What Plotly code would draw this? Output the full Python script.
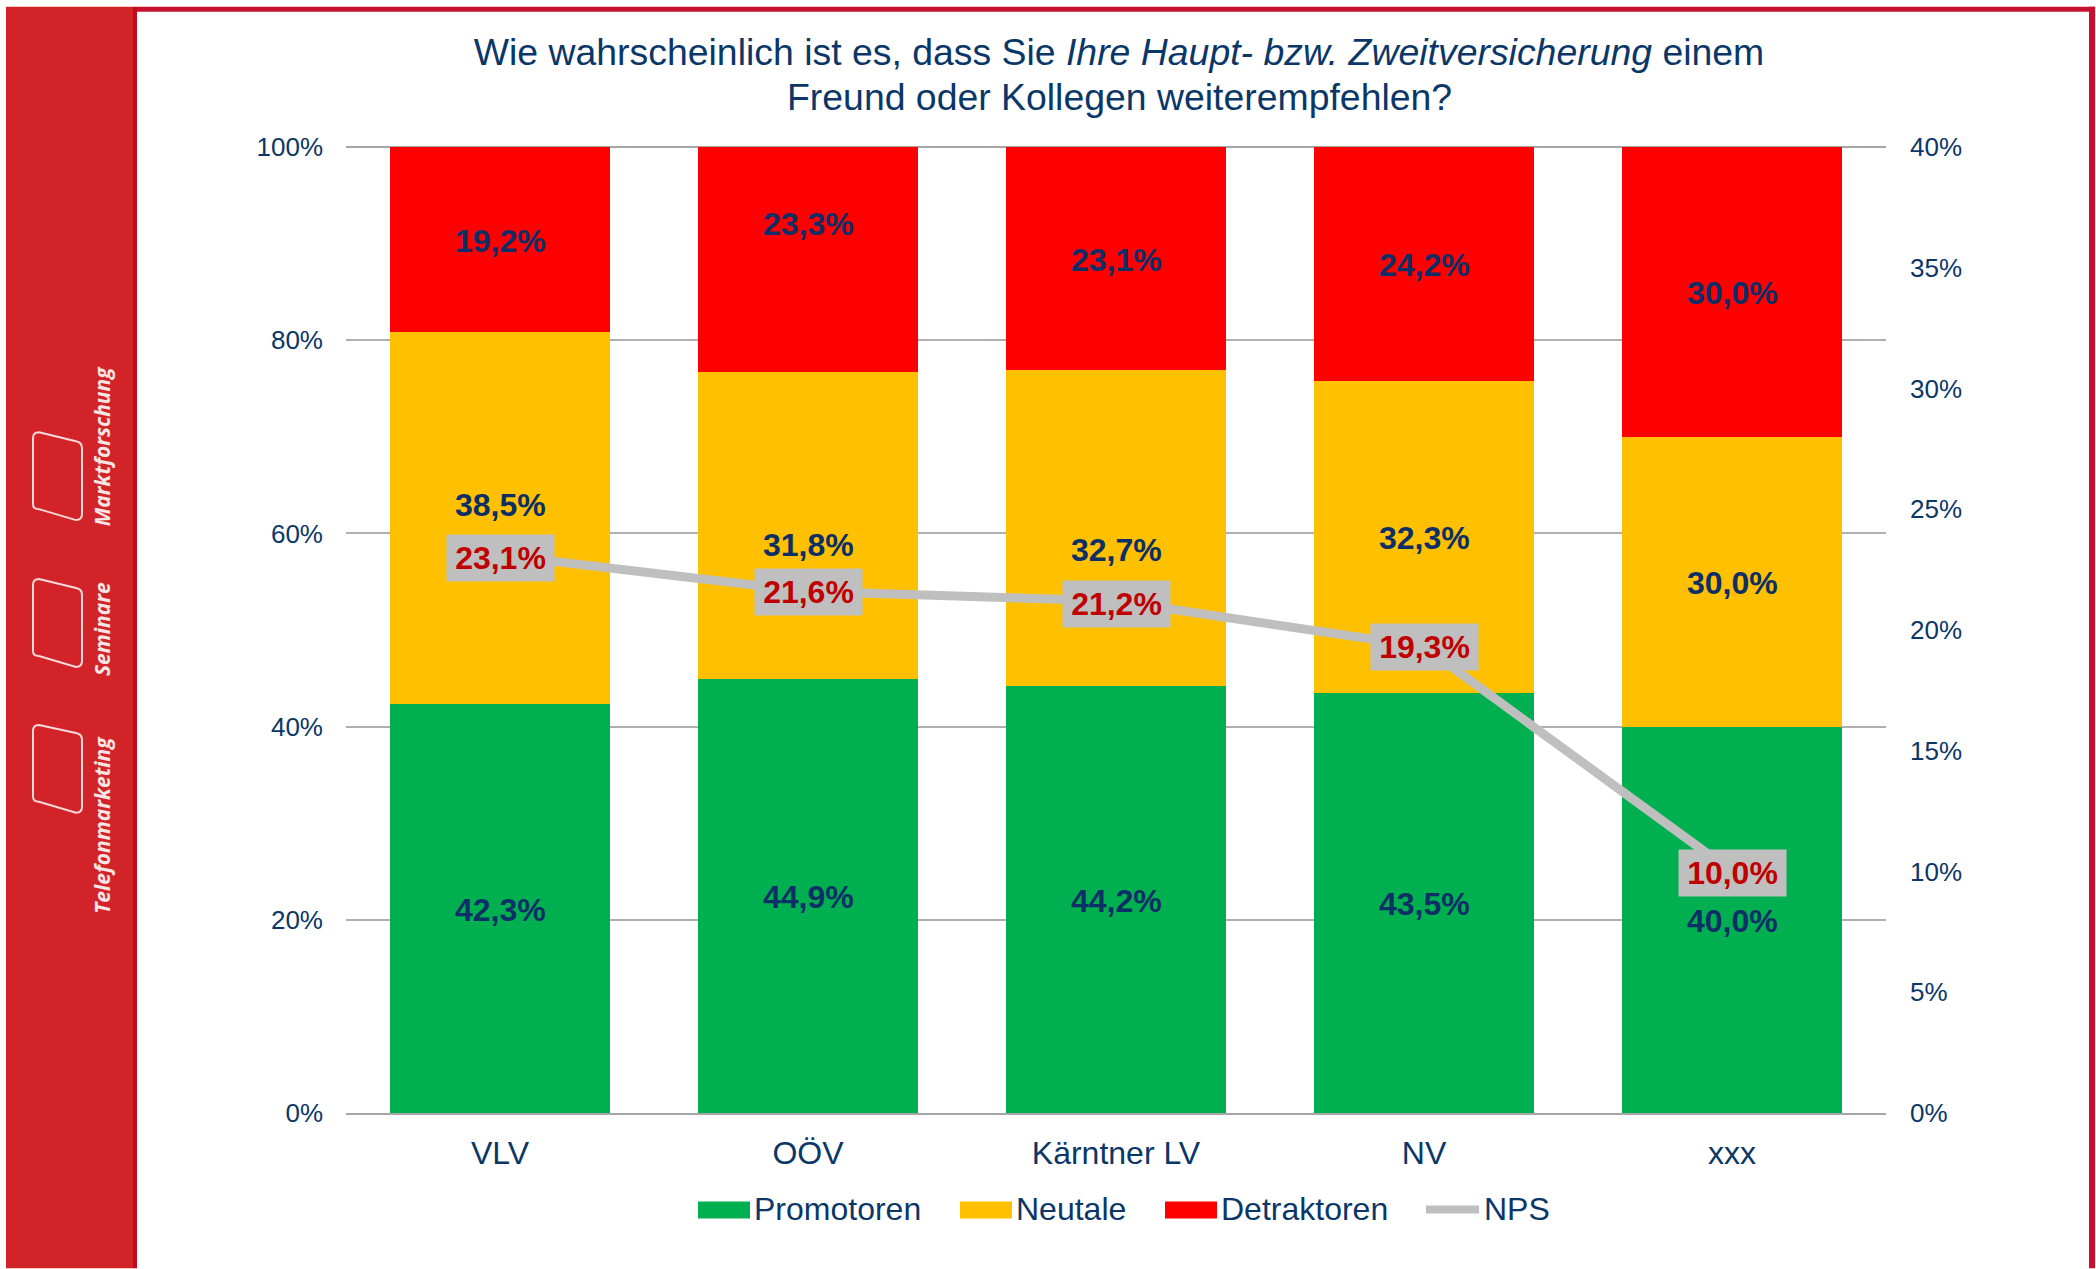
import plotly.graph_objects as go

categories = ["VLV", "OÖV", "Kärntner LV", "NV", "xxx"]
promotoren = [42.3, 44.9, 44.2, 43.5, 40.0]
neutrale = [38.5, 31.8, 32.7, 32.3, 30.0]
detraktoren = [19.2, 23.3, 23.1, 24.2, 30.0]
nps = [23.1, 21.6, 21.2, 19.3, 10.0]
left_ticks = [0, 20, 40, 60, 80, 100]
right_ticks = [0, 5, 10, 15, 20, 25, 30, 35, 40]

W, H = 2096, 1269
L, R, T, B = 346, 1886, 146.5, 1113.5
NAVY = "#0B3768"
FONT = "Liberation Sans"


def px(x):
    return (x - L) / (R - L)


def py(y):
    return (B - y) / (B - T)


def de(v, d=1):
    return f"{v:.{d}f}%".replace(".", ",")


fig = go.Figure()
for name, vals, col in [("Promotoren", promotoren, "#00B050"),
                        ("Neutale", neutrale, "#FFC000"),
                        ("Detraktoren", detraktoren, "#FF0000")]:
    fig.add_trace(go.Bar(x=categories, y=vals, name=name, marker=dict(color=col, line_width=0), showlegend=False))
fig.add_trace(go.Scatter(x=categories, y=nps, name="NPS", yaxis="y2", mode="lines",
                         line=dict(color="#BFBFBF", width=9), showlegend=False))

ann = []
# hand-moved labels in the original, pixel shift upward from the segment centre
moved = {("n", 0): 14, ("n", 1): -18, ("n", 2): -21, ("d", 1): 37}
box_shift = {0: -3, 1: -1, 2: -3, 3: 0, 4: -1}
for i, c in enumerate(categories):
    p, n, d = promotoren[i], neutrale[i], detraktoren[i]
    for key, val, centre in [("p", p, p / 2), ("n", n, p + n / 2), ("d", d, p + n + d / 2)]:
        ann.append(dict(x=c, y=centre, xref="x", yref="y", text=f"<b>{de(val)}</b>", showarrow=False,
                        yshift=moved.get((key, i), 0) - 1,
                        font=dict(family=FONT, size=32, color="#0B2F66")))
for i, (c, v) in enumerate(zip(categories, nps)):
    ann.append(dict(x=c, y=v, xref="x", yref="y2", text=f"<b>{de(v)}</b>", showarrow=False,
                    yshift=box_shift[i],
                    width=107, height=46, bgcolor="#BFBFBF", borderpad=0, align="center", valign="middle",
                    font=dict(family=FONT, size=32, color="#C00000")))

shapes = []


def rect(x0, y0, x1, y1, col):
    shapes.append(dict(type="rect", xref="paper", yref="paper", x0=px(x0), x1=px(x1), y0=py(y0), y1=py(y1),
                       fillcolor=col, line_width=0, layer="below"))


rect(6, 6, 133, H, "#D22428")
rect(133, 6, 137, H, "#C00D1E")
rect(137, 6, 2095, 11, "#C8102E")
rect(2089, 6, 2095, H, "#C8102E")

# top gridline (plotly drops the gridline at the axis end)
shapes.append(dict(type="line", xref="paper", yref="paper", x0=0, x1=1, y0=1, y1=1,
                   line=dict(color="#A6A6A6", width=2), layer="below"))

# sidebar icons
for y0, y1, y2, y3 in [(432, 442, 520, 510), (579, 589, 667, 657), (725, 734, 813, 803)]:
    a, b, r = 33, 82, 6
    path = (f"M {px(a + r)} {py(y0)} L {px(b - r)} {py(y1 - 1)} Q {px(b)} {py(y1)} {px(b)} {py(y1 + r)} "
            f"L {px(b)} {py(y2 - r)} Q {px(b)} {py(y2)} {px(b - r)} {py(y2)} "
            f"L {px(a + r)} {py(y3 - 1)} Q {px(a)} {py(y3 - 1)} {px(a)} {py(y3 - r)} "
            f"L {px(a)} {py(y0 + r)} Q {px(a)} {py(y0)} {px(a + r)} {py(y0)} Z")
    shapes.append(dict(type="path", xref="paper", yref="paper", path=path,
                       line=dict(color="#F6D9DA", width=2), fillcolor="rgba(0,0,0,0)", layer="below"))
for text, yc in [("Marktforschung", 446), ("Seminare", 629), ("Telefonmarketing", 825)]:
    ann.append(dict(x=px(102), y=py(yc), xref="paper", yref="paper", text=f"<b><i>{text}</i></b>", textangle=-90,
                    showarrow=False, xanchor="center", yanchor="middle",
                    font=dict(family="Open Sans", size=21, color="#F7E4E4")))

# legend
for text, col, s0, s1, tx in [("Promotoren", "#00B050", 698, 750, 752),
                              ("Neutale", "#FFC000", 960, 1012, 1014),
                              ("Detraktoren", "#FF0000", 1165, 1217, 1219)]:
    rect(s0, 1202, s1, 1219, col)
    ann.append(dict(x=px(tx), y=py(1210), xref="paper", yref="paper", text=text, showarrow=False,
                    xanchor="left", yanchor="middle",
                    font=dict(family=FONT, size=32, color=NAVY)))
shapes.append(dict(type="line", xref="paper", yref="paper", x0=px(1426), x1=px(1479), y0=py(1210), y1=py(1210),
                   line=dict(color="#BFBFBF", width=8)))
ann.append(dict(x=px(1482), y=py(1210), xref="paper", yref="paper", text="NPS", showarrow=False,
                xanchor="left", yanchor="middle",
                font=dict(family=FONT, size=32, color=NAVY)))

# second title line, placed on its own to match the original's tighter leading
ann.append(dict(x=px(1119), y=py(96), xref="paper", yref="paper", text="Freund oder Kollegen weiterempfehlen?",
                showarrow=False, xanchor="center", yanchor="middle",
                font=dict(family=FONT, size=37.4, color=NAVY)))

fig.update_layout(
    width=W, height=H, barmode="stack", bargap=0.286,
    margin=dict(l=L, r=W - R, t=T, b=H - B, pad=0),
    paper_bgcolor="white", plot_bgcolor="white",
    title=dict(text="Wie wahrscheinlich ist es, dass Sie <i>Ihre Haupt- bzw. Zweitversicherung</i> einem",
               x=1119 / W, xanchor="center", y=1 - 52 / H, yanchor="middle",
               font=dict(family=FONT, size=37.4, color=NAVY)),
    xaxis=dict(tickfont=dict(family=FONT, size=32, color=NAVY), showgrid=False, ticks="",
               showline=True, linecolor="#A6A6A6", linewidth=2, ticklabelstandoff=11),
    yaxis=dict(range=[0, 100], tickvals=left_ticks, ticktext=[f"{v}%" for v in left_ticks],
               tickfont=dict(family=FONT, size=26, color=NAVY), showgrid=True, gridcolor="#B0B0B0", gridwidth=2,
               zeroline=False, ticks="", ticklabelstandoff=22),
    yaxis2=dict(range=[0, 40], overlaying="y", side="right", tickvals=right_ticks,
                ticktext=[f"{v}%" for v in right_ticks], tickfont=dict(family=FONT, size=26, color=NAVY),
                showgrid=False, zeroline=False, ticks="", ticklabelstandoff=23),
    annotations=ann, shapes=shapes, showlegend=False,
)

fig.write_html("out.html", config={"displayModeBar": False},
               post_script="document.body.style.margin='0';document.documentElement.style.overflow='hidden';")
